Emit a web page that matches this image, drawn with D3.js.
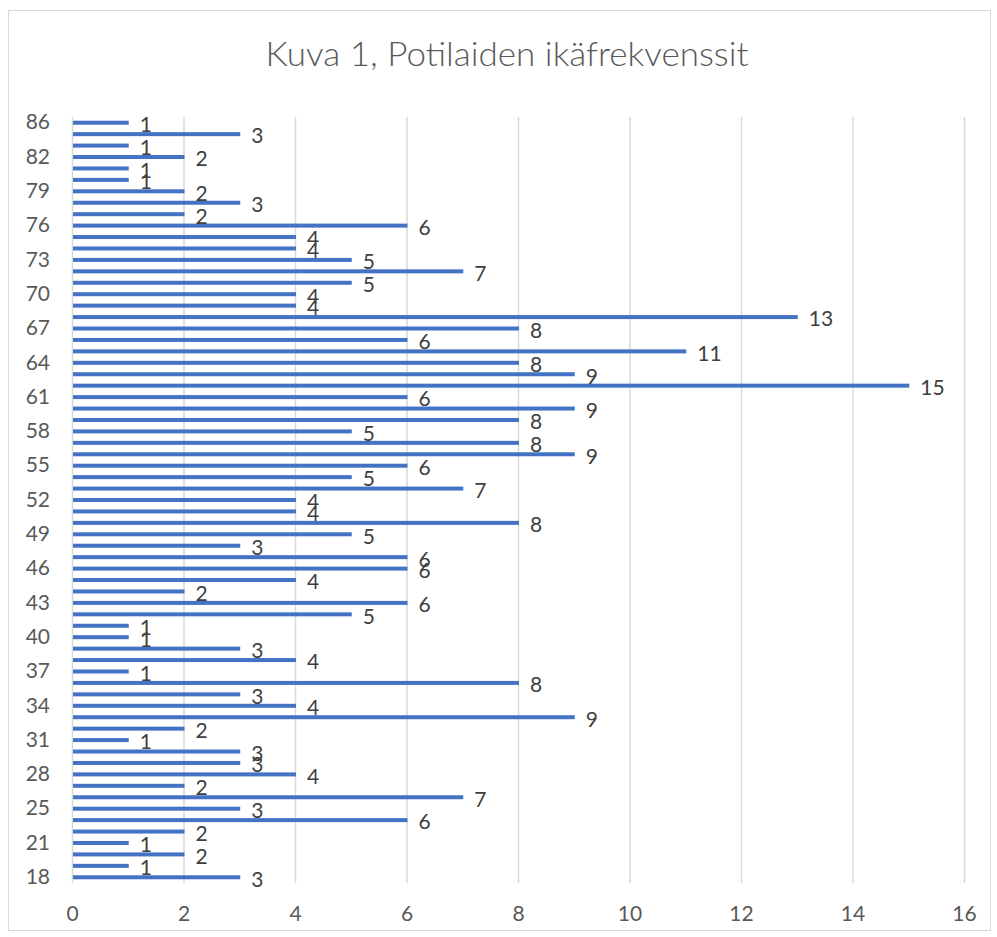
<!DOCTYPE html>
<html>
<head>
<meta charset="utf-8">
<script src="https://cdn.jsdelivr.net/npm/d3@7"></script>
<style>
  body { margin: 0; background: #fff; }
  svg { display: block; font-family: Lato, "Open Sans", sans-serif; }
</style>
</head>
<body>
<div id="chart"></div>
<script>
const title = 'Kuva 1, Potilaiden ikäfrekvenssit';

// ages from youngest (bottom) to oldest (top)
const ages = [
	18, 19, 20, 21, 22, 23, 25, 26, 27, 28, 29, 30, 31, 32, 33, 34, 35, 36, 37, 38, 39, 40,
	41, 42, 43, 44, 45, 46, 47, 48, 49, 50, 51, 52, 53, 54, 55, 56, 57, 58, 59, 60, 61, 62,
	63, 64, 65, 66, 67, 68, 69, 70, 71, 72, 73, 74, 75, 76, 77, 78, 79, 80, 81, 82, 83, 84, 86
];

const counts = [
	3, 1, 2, 1, 2, 6, 3, 7, 2, 4, 3, 3, 1, 2, 9, 4, 3, 8, 1, 4, 3, 1, 1, 5, 6, 2, 4, 6, 6, 3,
	5, 8, 4, 4, 7, 5, 6, 9, 8, 5, 8, 9, 6, 15, 9, 8, 11, 6, 8, 13, 4, 4, 5, 7, 5, 4, 4, 6, 2, 3,
	2, 1, 1, 2, 1, 3, 1
];

const xTicks = [0, 2, 4, 6, 8, 10, 12, 14, 16];

const data = ages.map((a, i) => ({ age: a, count: counts[i] }));

const W = 997;
const H = 937;
const margin = { top: 117, right: 33, bottom: 54, left: 72 };
const width = 964 - margin.left;
const height = H - margin.top - margin.bottom;
const labelSize = '21px';

const root = d3.select('#chart').append('svg').attr('width', W).attr('height', H);

root.append('rect')
	.attr('x', 8.5).attr('y', 10.5)
	.attr('width', 982).attr('height', 920)
	.attr('fill', '#fff')
	.attr('stroke', '#d9d9d9')
	.attr('stroke-width', 1);

root.append('text')
	.attr('x', 507).attr('y', 66)
	.attr('text-anchor', 'middle')
	.attr('fill', '#595959')
	.attr('textLength', 483)
	.attr('lengthAdjust', 'spacingAndGlyphs')
	.style('font-size', '33px')
	.style('font-weight', 300)
	.text(title);

const svg = root.append('g').attr('transform', `translate(${margin.left},${margin.top})`);

const x = d3.scaleLinear().domain([0, 16]).range([0, width]);

const y = d3.scaleBand()
	.domain(ages)
	.range([height, 0])
	.paddingInner(0.65)
	.paddingOuter(0.325);

// vertical gridlines
svg.append('g')
	.attr('class', 'x axis-grid')
	.call(d3.axisBottom(x).tickValues(xTicks).tickSize(height).tickFormat(''))
	.call((g) => g.select('.domain').remove())
	.selectAll('line')
	.attr('stroke', '#d9d9d9')
	.attr('stroke-width', 1.5);

svg.selectAll('rect.bar')
	.data(data)
	.enter()
	.append('rect')
	.attr('class', 'bar')
	.attr('x', x(0) + 1)
	.attr('y', (d) => y(d.age))
	.attr('width', (d) => x(d.count) - x(0))
	.attr('height', y.bandwidth())
	.attr('fill', '#4472c4');

svg.selectAll('text.val')
	.data(data)
	.enter()
	.append('text')
	.attr('class', 'val')
	.attr('x', (d) => x(d.count) + 12)
	.attr('y', (d) => y(d.age) + y.bandwidth() / 2 + 2)
	.attr('dy', '0.35em')
	.attr('fill', '#404040')
	.style('font-size', labelSize)
	.text((d) => d.count);

// x axis labels
svg.append('g')
	.attr('transform', `translate(0,${height})`)
	.call(d3.axisBottom(x).tickValues(xTicks).tickSize(0).tickPadding(23))
	.call((g) => g.select('.domain').remove())
	.selectAll('text')
	.attr('fill', '#595959')
	.style('font-size', labelSize)
	.style('font-family', 'Lato, "Open Sans", sans-serif');

// y axis labels, every third age
svg.append('g')
	.call(d3.axisLeft(y).tickValues(ages.filter((a, i) => i % 3 === 0)).tickSize(0).tickPadding(22))
	.call((g) => g.select('.domain').remove())
	.selectAll('text')
	.attr('fill', '#595959')
	.style('font-size', labelSize)
	.style('font-family', 'Lato, "Open Sans", sans-serif');
</script>
</body>
</html>
